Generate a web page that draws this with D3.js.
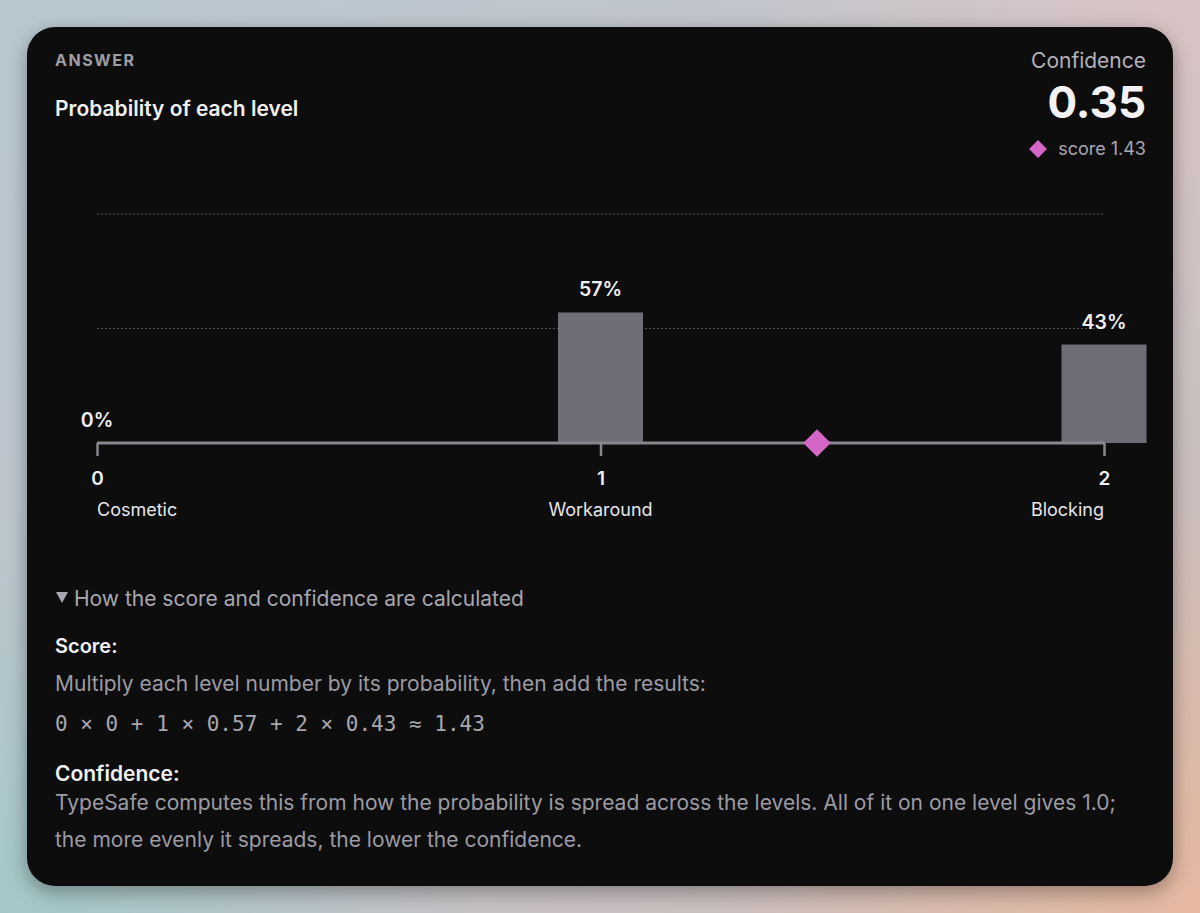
<!DOCTYPE html>
<html><head><meta charset="utf-8">
<script src="https://cdn.jsdelivr.net/npm/d3@7"></script>
<style>
html,body{margin:0;padding:0;width:1200px;height:913px;overflow:hidden;}
body{background:
 radial-gradient(ellipse 700px 600px at 1200px 913px, rgba(232,184,160,0.95), rgba(232,184,160,0) 70%),
 radial-gradient(ellipse 700px 600px at 0px 913px, rgba(160,200,200,0.9), rgba(160,200,200,0) 70%),
 radial-gradient(ellipse 700px 600px at 1200px 0px, rgba(220,196,196,0.9), rgba(220,196,196,0) 70%),
 linear-gradient(135deg,#b8c8d0,#c4c4cc 50%,#d0bcb4);}
svg{display:block;}
</style></head><body>
<svg id="c" width="1200" height="913"></svg>
<script>
const levels = [0, 1, 2];
const levelNames = ["Cosmetic", "Workaround", "Blocking"];
const probabilities = [0, 0.57, 0.43];
const gridValues = [0.5, 1.0];
const score = 1.43;
const confidence = 0.35;
const formulaText = "0 × 0 + 1 × 0.57 + 2 × 0.43 ≈ 1.43";

const svg = d3.select("#c");
const defs = svg.append("defs");
const f = defs.append("filter").attr("id","sh").attr("x","-10%").attr("y","-10%").attr("width","120%").attr("height","125%");
f.append("feDropShadow").attr("dx",0).attr("dy",6).attr("stdDeviation",10).attr("flood-color","#000").attr("flood-opacity",0.35);

svg.append("rect").attr("x",27).attr("y",27).attr("width",1146).attr("height",859)
  .attr("rx",28).attr("fill","#0d0c10").attr("filter","url(#sh)");

const sans = "Inter, 'Noto Sans', sans-serif";
function txt(x,y,s,opts){
  const t = svg.append("text").attr("x",x).attr("y",y).text(s)
    .attr("font-family",opts.family||sans).attr("font-size",opts.size)
    .attr("font-weight",opts.weight||400).attr("fill",opts.fill)
    .attr("text-anchor",opts.anchor||"start");
  if(opts.ls) t.attr("letter-spacing",opts.ls);
  return t;
}

// header
txt(55,66,"ANSWER",{size:16,weight:700,fill:"#9d9ca4",ls:1.5});
txt(55,116,"Probability of each level",{size:21,weight:600,fill:"#f0f0f2"});
txt(1146,68,"Confidence",{size:21,weight:400,fill:"#b3b2b9",anchor:"end"});
txt(1146,118,d3.format(".2f")(confidence),{size:44,weight:700,fill:"#f2f2f4",anchor:"end"});
txt(1146,155,"score "+d3.format(".2f")(score),{size:18,weight:400,fill:"#a9a8b0",anchor:"end"});
svg.append("path").attr("d",d3.symbol(d3.symbolSquare,160)())
  .attr("transform","translate(1038,149) rotate(45)").attr("fill","#d466c8");

// chart
const x = d3.scaleLinear().domain([0,2]).range([97,1104]);
const y = d3.scaleLinear().domain([0,1]).range([443,214]);
const barW = 85;

svg.append("g").selectAll("line").data(gridValues).join("line")
  .attr("x1",x(0)).attr("x2",x(2)).attr("y1",d=>y(d)).attr("y2",d=>y(d))
  .attr("stroke","#55545c").attr("stroke-width",1).attr("stroke-dasharray","2,2");

svg.append("g").selectAll("rect").data(levels.filter(i=>probabilities[i]>0)).join("rect")
  .attr("x",d=>x(d)-barW/2).attr("width",barW)
  .attr("y",d=>y(probabilities[d])).attr("height",d=>y(0)-y(probabilities[d]))
  .attr("fill","#6f6e77");

svg.append("g").selectAll("text").data(levels).join("text")
  .attr("x",d=>x(d)).attr("y",d=>y(probabilities[d])-16)
  .attr("text-anchor","middle").attr("font-family",sans).attr("font-size",19.5).attr("font-weight",600)
  .attr("fill","#f0f0f2").text(d=>d3.format(".0%")(probabilities[d]));

const axis = d3.axisBottom(x).tickValues(levels).tickFormat(d3.format("d")).tickSize(13).tickPadding(16);
const ag = svg.append("g").attr("transform",`translate(0,${y(0)})`).call(axis);
ag.select(".domain").attr("stroke","#88878d").attr("stroke-width",3).attr("d",`M${x(0)},0H${x(2)}`);
ag.selectAll(".tick line").attr("stroke","#88878d").attr("stroke-width",2.5);
ag.selectAll(".tick text").attr("font-family",sans).attr("font-size",19).attr("font-weight",600).attr("fill","#f0f0f2");

svg.append("g").selectAll("text").data(levels).join("text")
  .attr("x",d=>x(d)).attr("y",516)
  .attr("text-anchor",(d,i)=> i===0?"start":(i===levels.length-1?"end":"middle"))
  .attr("font-family",sans).attr("font-size",18).attr("fill","#e6e6ea").text((d,i)=>levelNames[i]);

svg.append("path").attr("d",d3.symbol(d3.symbolSquare,380)())
  .attr("transform",`translate(${x(score)},${y(0)}) rotate(45)`).attr("fill","#d466c8");

// explanation
svg.append("path").attr("d","M56,592 L68,592 L62,603 Z").attr("fill","#a8a7af");
txt(74,606,"How the score and confidence are calculated",{size:21,fill:"#a8a7af"});
txt(55,653,"Score:",{size:20,weight:600,fill:"#f0f0f2"});
txt(55,691,"Multiply each level number by its probability, then add the results:",{size:21,fill:"#9c9ba3"});
txt(55,731,formulaText,{size:21,fill:"#a8a7af",family:"'DejaVu Sans Mono', monospace"});
txt(55,781,"Confidence:",{size:21,weight:600,fill:"#f0f0f2"});
txt(55,810,"TypeSafe computes this from how the probability is spread across the levels. All of it on one level gives 1.0;",{size:21,fill:"#9c9ba3"});
txt(55,847,"the more evenly it spreads, the lower the confidence.",{size:21,fill:"#9c9ba3"});
</script>
</body></html>
